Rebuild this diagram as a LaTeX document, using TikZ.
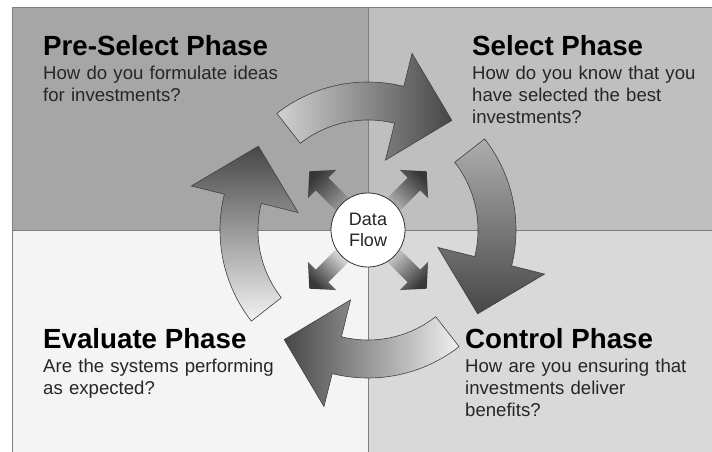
\documentclass[tikz,border=0pt]{standalone}
\usepackage{fontspec}
\setmainfont{Liberation Sans}
\usetikzlibrary{positioning}

\definecolor{preselect}{HTML}{A6A6A6}
\definecolor{select}{HTML}{BFBFBF}
\definecolor{evaluate}{HTML}{F4F4F4}
\definecolor{control}{HTML}{D9D9D9}
\definecolor{rulegray}{HTML}{7F7F7F}
\definecolor{shadedark}{HTML}{474747}

\begin{document}
\begin{tikzpicture}[x=1pt, y=1pt,
    phase/.style={anchor=base west, inner sep=0pt,
      font=\fontsize{27.7}{32}\selectfont\bfseries},
    question/.style={anchor=base west, inner sep=0pt, text width=250pt,
      align=left, text=black!85, font=\fontsize{18.6}{22}\selectfont},
    cyclearrow/.style={draw=black!75, line width=0.6pt, top color=shadedark},
    flowarrow/.style={top color=black!78},
    hub/.style={circle, draw=black!80, line width=0.8pt, fill=white,
      minimum size=74pt, inner sep=0pt, align=center, text=black!85,
      font=\fontsize{18}{21}\selectfont}]
    \useasboundingbox (0,0) rectangle (712,452);

    % the four phase panels
    \fill[preselect] (12,222) rectangle (368,445);
    \fill[select]    (368,222) rectangle (712,445);
    \fill[evaluate]  (12,0) rectangle (368,222);
    \fill[control]   (368,0) rectangle (712,222);
    \draw[rulegray, line width=0.8pt] (12,0) -- (12,445) -- (712,445);
    \draw[rulegray, line width=0.8pt] (368,0) -- (368,445);
    \draw[rulegray, line width=0.8pt] (12,222) -- (712,222);

    \node[phase] (pre) at (43,396) {Pre-Select Phase};
    \node[question, below=24pt of pre.base west, anchor=base west] (preq)
      {How do you formulate ideas\\for investments?};
    \node[phase] (sel) at (472,396) {Select Phase};
    \node[question, below=24pt of sel.base west, anchor=base west] (selq)
      {How do you know that you\\have selected the best\\investments?};
    \node[phase] (eval) at (43,103) {Evaluate Phase};
    \node[question, below=24pt of eval.base west, anchor=base west] (evalq)
      {Are the systems performing\\as expected?};
    \node[phase] (ctrl) at (465,103) {Control Phase};
    \node[question, below=24pt of ctrl.base west, anchor=base west] (ctrlq)
      {How are you ensuring that\\investments deliver\\benefits?};

    % curved arrows of the cycle, one per quarter turn
    \foreach \k/\sa/\tail in {0/-90/black!18, 1/-180/black!32,
                              2/90/black!6, 3/0/black!5} {
      \begin{scope}[shift={(368,222)}, rotate=-90*\k]
        \draw[cyclearrow, bottom color=\tail, shading angle=\sa]
          (128:148pt) arc[start angle=128, end angle=76, radius=148pt]
          -- (76:182pt) -- (52.6:138pt) -- (76:72pt) -- (76:110pt)
          arc[start angle=76, end angle=128, radius=110pt] -- cycle;
      \end{scope}
    }

    % data flowing out of the hub
    \foreach \a/\sa/\bg in {45/-45/select, 135/45/preselect,
                            225/135/evaluate, 315/225/control} {
      \begin{scope}[shift={(368,222)}, rotate=\a]
        \path[flowarrow, bottom color=\bg, shading angle=\sa]
          (30,-9) -- (65,-9) -- (65,-20) -- (83,0) -- (65,20)
          -- (65,9) -- (30,9) -- cycle;
      \end{scope}
    }

    \node[hub] (data) at (368,222) {Data\\Flow};
  \end{tikzpicture}
\end{document}
